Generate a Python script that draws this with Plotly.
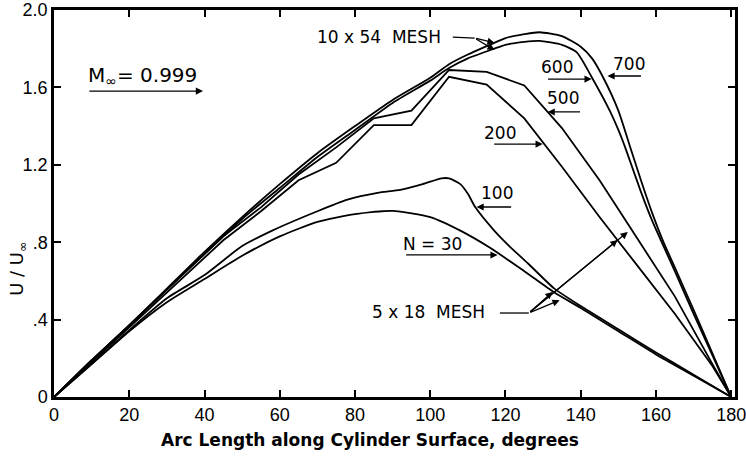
import plotly.graph_objects as go

# ---- data ----
deg_n30 = [0, 10, 20, 30, 40, 50, 60, 70, 80, 90, 100, 108, 116, 125, 133, 140, 150, 160, 170, 180]
u_n30 = [0, 0.17, 0.34, 0.49, 0.61, 0.73, 0.83, 0.905, 0.945, 0.962, 0.93, 0.86, 0.77, 0.65, 0.54, 0.46, 0.34, 0.22, 0.11, 0]

deg_n100 = [0, 10, 20, 30, 40, 50, 58, 70, 78, 86, 92, 98, 103, 105, 108, 110, 112, 117, 121, 126, 133, 140, 150, 160, 170, 180]
u_n100 = [0, 0.17, 0.345, 0.51, 0.63, 0.78, 0.86, 0.96, 1.02, 1.055, 1.07, 1.10, 1.13, 1.13, 1.10, 1.05, 0.98, 0.86, 0.78, 0.69, 0.56, 0.47, 0.35, 0.23, 0.115, 0]

deg_n200 = [0, 5, 15, 25, 35, 45, 55, 65, 75, 85, 95, 105, 115, 125, 135, 145, 155, 165, 175, 180]
u_n200 = [0, 0.09, 0.27, 0.455, 0.635, 0.81, 0.96, 1.12, 1.21, 1.405, 1.405, 1.655, 1.615, 1.44, 1.19, 0.93, 0.68, 0.43, 0.16, 0]

deg_n500 = [0, 5, 15, 25, 35, 45, 55, 65, 75, 85, 95, 105, 115, 125, 135, 145, 155, 165, 175, 180]
u_n500 = [0, 0.09, 0.28, 0.465, 0.65, 0.83, 0.98, 1.15, 1.29, 1.44, 1.48, 1.69, 1.68, 1.61, 1.39, 1.12, 0.82, 0.52, 0.17, 0]

deg_n600 = [0, 10, 20, 30, 40, 50, 60, 70, 80, 90, 100, 105, 110, 117, 120, 125, 129, 135, 139, 143, 147.7, 150, 152, 156, 159, 162, 165, 170, 175, 180]
u_n600 = [0, 0.19, 0.37, 0.555, 0.74, 0.92, 1.08, 1.24, 1.38, 1.52, 1.635, 1.70, 1.75, 1.80, 1.82, 1.835, 1.84, 1.82, 1.78, 1.65, 1.48, 1.38, 1.28, 1.06, 0.91, 0.78, 0.65, 0.43, 0.215, 0]

deg_n700 = [0, 10, 20, 30, 40, 50, 60, 70, 80, 90, 100, 105, 110, 117, 120, 125, 129, 135, 140, 143, 146, 150, 153, 156, 159, 162, 165, 170, 175, 180]
u_n700 = [0, 0.19, 0.37, 0.56, 0.75, 0.93, 1.10, 1.26, 1.40, 1.535, 1.65, 1.72, 1.77, 1.83, 1.855, 1.875, 1.885, 1.865, 1.81, 1.75, 1.65, 1.48, 1.30, 1.12, 0.95, 0.80, 0.67, 0.45, 0.225, 0]

x_ticks = [0, 20, 40, 60, 80, 100, 120, 140, 160, 180]
y_ticks = [0, 0.4, 0.8, 1.2, 1.6, 2.0]
y_tick_text = ["0", ".4", ".8", "1.2", "1.6", "2.0"]

FONT = "DejaVu Sans"
TICKFONT = "Liberation Sans"
INK = "black"

fig = go.Figure()
series = [
    (deg_n30, u_n30, "spline"),
    (deg_n100, u_n100, "spline"),
    (deg_n200, u_n200, "linear"),
    (deg_n500, u_n500, "linear"),
    (deg_n600, u_n600, "spline"),
    (deg_n700, u_n700, "spline"),
]
for xs, ys, shape in series:
    fig.add_trace(go.Scatter(x=xs, y=ys, mode="lines",
                             line=dict(color=INK, width=1.8, shape=shape, smoothing=0.6),
                             showlegend=False, hoverinfo="skip", cliponaxis=False))

annotations = []

def label(text, x, y, size=17):
    annotations.append(dict(text=text, x=x, y=y, xref="x", yref="y", showarrow=False,
                            xanchor="center", yanchor="middle",
                            font=dict(family=FONT, size=size, color=INK)))

def arrow(tail, head):
    annotations.append(dict(text="", x=head[0], y=head[1], ax=tail[0], ay=tail[1],
                            xref="x", yref="y", axref="x", ayref="y",
                            showarrow=True, arrowhead=2, arrowsize=1.1, arrowwidth=1.3,
                            arrowcolor=INK, standoff=0, startstandoff=0))

label("M<sub>∞</sub>= 0.999", 23.5, 1.66, size=20)
arrow((9.0, 1.581), (39.6, 1.581))

label("10 x 54&nbsp;&nbsp;MESH", 86.3, 1.858)
label("600", 133.6, 1.705)
label("700", 152.9, 1.72)
label("500", 135.3, 1.543)
label("200", 118.6, 1.364)
label("100", 117.7, 1.052)
label("N = 30", 100.5, 0.793)
label("5 x 18&nbsp;&nbsp;MESH", 99.6, 0.437)

arrow((130.9, 1.643), (142.9, 1.643))
arrow((156.4, 1.659), (147.1, 1.659))
arrow((140.2, 1.473), (131.2, 1.473))
arrow((116.6, 1.307), (129.9, 1.307))
arrow((121.9, 0.982), (112.3, 0.982))
arrow((93.2, 0.734), (117.9, 0.734))

# 10x54 mesh pointer
arrow((111.8, 1.855), (117.1, 1.83))
arrow((111.8, 1.855), (117.1, 1.793))
# 5x18 mesh pointers
arrow((126.2, 0.434), (132.5, 0.543))
arrow((126.2, 0.434), (134.4, 0.50))
arrow((126.2, 0.434), (149.8, 0.811))
arrow((126.2, 0.434), (152.5, 0.853))

shapes = [
    dict(type="line", xref="x", yref="y", x0=106.0, y0=1.86, x1=111.8, y1=1.855,
         line=dict(color=INK, width=1.3)),
    dict(type="line", xref="x", yref="y", x0=118.5, y0=0.434, x1=126.2, y1=0.434,
         line=dict(color=INK, width=1.3)),
]

annotations.append(dict(text="<b>Arc Length along Cylinder Surface, degrees</b>",
                        x=0.464, y=-0.111, xref="paper", yref="paper", showarrow=False,
                        xanchor="center", yanchor="middle",
                        font=dict(family=FONT, size=17, color=INK)))
annotations.append(dict(text="U / U<sub>∞</sub>", x=-0.053, y=0.331, xref="paper", yref="paper",
                        showarrow=False, textangle=-90, xanchor="center", yanchor="middle",
                        font=dict(family=FONT, size=18, color=INK)))

fig.update_layout(
    width=746, height=460,
    margin=dict(l=54, r=11, t=10, b=63, autoexpand=False),
    paper_bgcolor="white", plot_bgcolor="white",
    annotations=annotations, shapes=shapes,
    xaxis=dict(range=[0, 181], tickvals=x_ticks, ticks="inside", ticklen=7, tickwidth=1.5,
               tickcolor=INK, showline=True, linecolor=INK, linewidth=2.5, mirror="ticks",
               showgrid=False, zeroline=False, automargin=False, ticklabeloverflow="allow",
               tickfont=dict(family=TICKFONT, size=18, color=INK)),
    yaxis=dict(range=[0, 2.0], tickvals=y_ticks, ticktext=y_tick_text, ticks="inside",
               ticklen=7, tickwidth=1.5, tickcolor=INK, showline=True, linecolor=INK,
               linewidth=2.5, mirror="ticks", showgrid=False, zeroline=False, automargin=False,
               ticklabeloverflow="allow",
               tickfont=dict(family=TICKFONT, size=18, color=INK)),
)

fig.write_html("out.html", config={"displayModeBar": False},
               post_script="document.body.style.margin='0';document.body.style.overflow='hidden';")
